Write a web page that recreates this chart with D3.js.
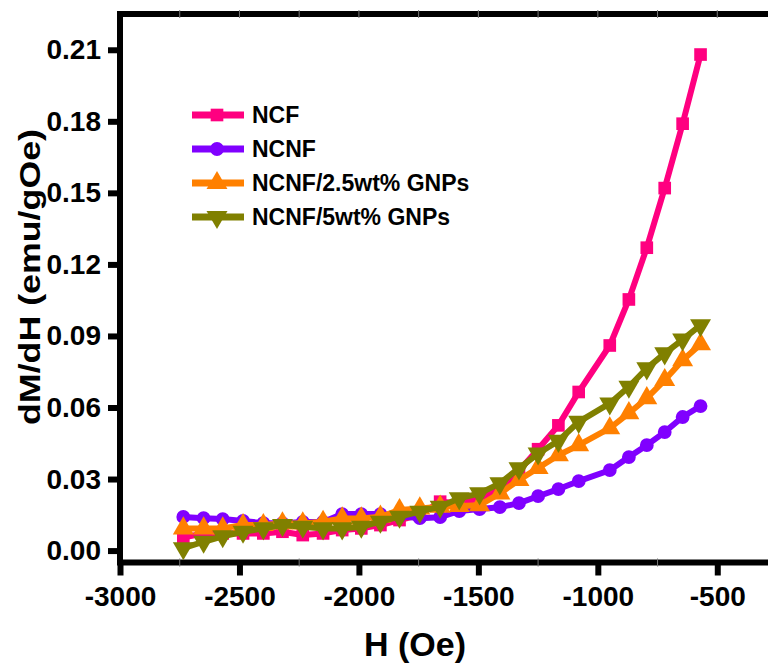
<!DOCTYPE html>
<html>
<head>
<meta charset="utf-8">
<script src="https://cdn.jsdelivr.net/npm/d3@7"></script>
<style>
  body { margin: 0; background: #fff; }
  text { font-family: "Liberation Sans", Arial, sans-serif; font-weight: bold; }
</style>
</head>
<body>
<div id="chart"></div>
<script>
// field values (Oe)
const fieldH = [-2735, -2650, -2570, -2485, -2400, -2320, -2235, -2150, -2070, -1990, -1910, -1830, -1745, -1660,
  -1580, -1495, -1410, -1330, -1250, -1165, -1080, -950, -870, -795, -720, -645, -570]

// dM/dH (emu/gOe)
const ncf = [0.0055, 0.0072, 0.0072, 0.0072, 0.0072, 0.0079, 0.0065, 0.0072, 0.0086, 0.0093, 0.0107, 0.0128, 0.0150, 0.0205,
  0.0198, 0.0220, 0.0255, 0.0335, 0.0425, 0.0525, 0.0665, 0.0860, 0.1053, 0.1270, 0.1520, 0.1790, 0.2080]
const ncnf = [0.0141, 0.0136, 0.0132, 0.0124, 0.0115, 0.0115, 0.0120, 0.0120, 0.0153, 0.0153, 0.0153, 0.0145, 0.0136, 0.0140,
  0.0166, 0.0174, 0.0182, 0.0199, 0.0228, 0.0258, 0.0291, 0.0337, 0.0392, 0.0442, 0.0497, 0.0560, 0.0606]
const gnp25 = [0.0093, 0.0093, 0.0093, 0.0107, 0.0107, 0.0114, 0.0114, 0.0121, 0.0135, 0.0135, 0.0142, 0.0170, 0.0177, 0.0184,
  0.0187, 0.0190, 0.0240, 0.0296, 0.0346, 0.0400, 0.0442, 0.0513, 0.0576, 0.0639, 0.0715, 0.0798, 0.0865]
const gnp5 = [0.0010, 0.0037, 0.0060, 0.0079, 0.0093, 0.0107, 0.0100, 0.0093, 0.0093, 0.0100, 0.0121, 0.0142, 0.0163, 0.0184,
  0.0219, 0.0240, 0.0282, 0.0345, 0.0407, 0.0460, 0.0540, 0.0617, 0.0687, 0.0764, 0.0827, 0.0885, 0.0945]

const seriesNames = ["NCF", "NCNF", "NCNF/2.5wt% GNPs", "NCNF/5wt% GNPs"]
const seriesValues = [ncf, ncnf, gnp25, gnp5]
const seriesColors = ["#ff0080", "#8000ff", "#ff8000", "#808000"]
const seriesSymbols = [d3.symbolSquare, d3.symbolCircle, d3.symbolTriangle, "down"]

const xTicks = [-3000, -2500, -2000, -1500, -1000, -500]
const xMinor = [-2750, -2250, -1750, -1250, -750, -250]
const yTicks = [0.00, 0.03, 0.06, 0.09, 0.12, 0.15, 0.18, 0.21]

const W = 768, H = 664
const LEFT = 120, TOP = 14, BOTTOM = 562.5, RIGHT = 777

const svg = d3.select("#chart").append("svg")
  .attr("width", W)
  .attr("height", H)

const x = d3.scaleLinear().domain([-3000, -250]).range([LEFT, RIGHT])
const y = d3.scaleLinear().domain([-0.005, 0.225]).range([BOTTOM, TOP])

// frame
const frame = svg.append("g")
frame.append("line").attr("x1", LEFT).attr("x2", W + 10).attr("y1", TOP).attr("y2", TOP)
frame.append("line").attr("x1", LEFT).attr("x2", W + 10).attr("y1", BOTTOM).attr("y2", BOTTOM)
frame.append("line").attr("x1", LEFT).attr("x2", LEFT).attr("y1", TOP - 3).attr("y2", BOTTOM + 3)
frame.selectAll("line").attr("stroke", "#000").attr("stroke-width", 6)

// faint minor marks on top / bottom border
svg.append("g").selectAll("line")
  .data(xTicks.concat(xMinor).filter(d => d > -3000))
  .join("line")
  .attr("x1", d => x(d)).attr("x2", d => x(d))
  .attr("y1", TOP - 4).attr("y2", TOP + 4)
  .attr("stroke", "#777").attr("stroke-width", 1)
svg.append("g").selectAll("line")
  .data(xMinor)
  .join("line")
  .attr("x1", d => x(d)).attr("x2", d => x(d))
  .attr("y1", BOTTOM - 4).attr("y2", BOTTOM + 4)
  .attr("stroke", "#777").attr("stroke-width", 1)

// axes
svg.append("g")
  .attr("transform", `translate(0,${BOTTOM})`)
  .call(d3.axisBottom(x).tickValues(xTicks).tickSize(13).tickPadding(11).tickFormat(d => String(d)))
svg.append("g")
  .attr("transform", `translate(${LEFT},0)`)
  .call(d3.axisLeft(y).tickValues(yTicks).tickSize(12).tickPadding(7).tickFormat(d3.format(".2f")))

svg.selectAll(".domain").remove()
svg.selectAll(".tick line").attr("stroke", "#000").attr("stroke-width", 6)
svg.selectAll(".tick text").attr("fill", "#000").attr("font-size", 28).attr("font-family", null)

// axis titles
svg.append("text")
  .attr("x", 415).attr("y", 656)
  .attr("text-anchor", "middle")
  .attr("font-size", 34)
  .text("H (Oe)")
svg.append("text")
  .attr("transform", "translate(40,277) rotate(-90)")
  .attr("text-anchor", "middle")
  .attr("font-size", 30)
  .attr("textLength", 296)
  .attr("lengthAdjust", "spacingAndGlyphs")
  .text("dM/dH (emu/gOe)")

function marker(sym, size) {
  if (sym === "down") {
    return d3.symbol(d3.symbolTriangle, size)()
  }
  return d3.symbol(sym, size)()
}

const line = d3.line()
  .x(d => x(d[0]))
  .y(d => y(d[1]))

const sizes = [160, 150, 190, 190]

seriesValues.forEach((vals, i) => {
  const pts = fieldH.map((h, k) => [h, vals[k]])
  const g = svg.append("g")
  g.append("path")
    .datum(pts)
    .attr("d", line)
    .attr("fill", "none")
    .attr("stroke", seriesColors[i])
    .attr("stroke-width", 6)
    .attr("stroke-linejoin", "round")
  g.selectAll("path.pt")
    .data(pts)
    .join("path")
    .attr("class", "pt")
    .attr("d", marker(seriesSymbols[i], sizes[i]))
    .attr("transform", d => `translate(${x(d[0])},${y(d[1])})` + (seriesSymbols[i] === "down" ? " rotate(180)" : ""))
    .attr("fill", seriesColors[i])
})

// legend
const legendY = [115, 149, 183, 217]
const lg = svg.append("g")
seriesNames.forEach((name, i) => {
  const row = lg.append("g").attr("transform", `translate(0,${legendY[i]})`)
  row.append("line")
    .attr("x1", 192).attr("x2", 244)
    .attr("stroke", seriesColors[i]).attr("stroke-width", 7)
  row.append("path")
    .attr("d", marker(seriesSymbols[i], sizes[i]))
    .attr("transform", "translate(217,0)" + (seriesSymbols[i] === "down" ? " rotate(180)" : ""))
    .attr("fill", seriesColors[i])
  row.append("text")
    .attr("x", 252).attr("y", 0).attr("dy", "0.36em")
    .attr("font-size", 23)
    .text(name)
})
</script>
</body>
</html>
